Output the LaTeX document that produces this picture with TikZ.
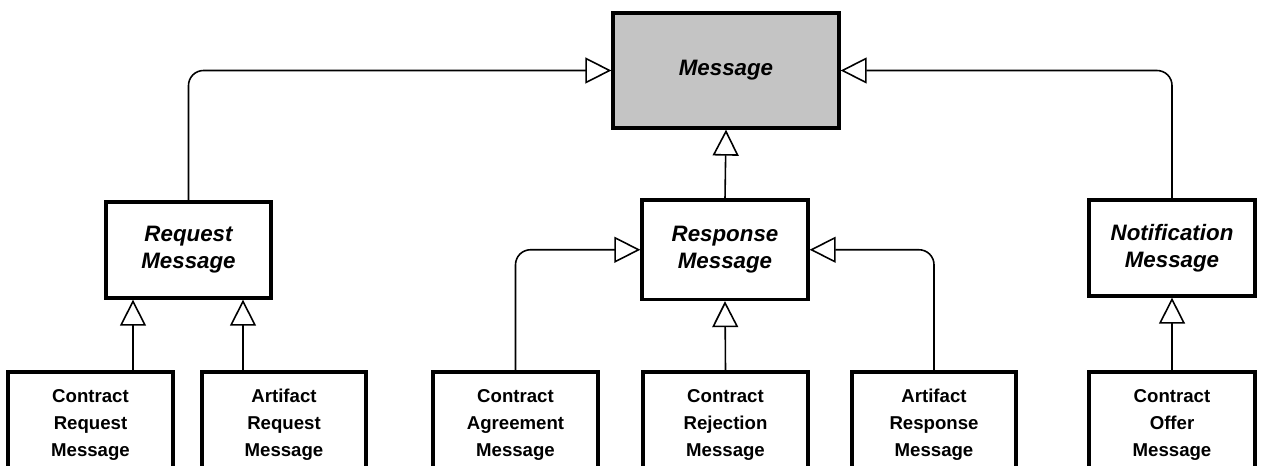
\documentclass[tikz,border=0pt]{standalone}
\usepackage{fontspec}
\setmainfont{Liberation Sans}
\usepackage{tikz}
\usetikzlibrary{arrows.meta}
\definecolor{msggray}{RGB}{196,196,196}
\tikzset{
  abstractcls/.style={draw,line width=1.9pt,align=center,inner sep=0pt,
    font=\fontsize{12.7}{15.3}\selectfont\bfseries\itshape},
  concretecls/.style={draw,line width=1.9pt,align=center,inner sep=0pt,
    minimum height=2.12cm,font=\fontsize{10.6}{15.3}\selectfont\bfseries},
  isa/.style={line width=0.9pt,rounded corners=0.3cm,
    -{Triangle[length=0.52cm,width=0.52cm,fill=white]}}
}

\begin{document}
\begin{tikzpicture}[x=0.02cm,y=-0.02cm]
    \useasboundingbox (0,0) rectangle (1263,466);
    \clip (0,0) rectangle (1263,466);

    \node[abstractcls,fill=msggray,minimum width=4.52cm,minimum height=2.3cm]
      (msg) at (726,70.5) {Message};
    \node[abstractcls,minimum width=3.3cm,minimum height=1.92cm]
      (req) at (188.5,250) {Request\\Message};
    \node[abstractcls,minimum width=3.32cm,minimum height=1.99cm]
      (resp) at (725,249.75) {Response\\Message};
    \node[abstractcls,minimum width=3.32cm,minimum height=1.92cm]
      (notif) at (1172,248) {Notification\\Message};

    \node[concretecls,minimum width=3.3cm] (creq) at (90.5,425) {Contract\\Request\\Message};
    \node[concretecls,minimum width=3.28cm] (areq) at (284,425) {Artifact\\Request\\Message};
    \node[concretecls,minimum width=3.3cm] (cagr) at (515.5,425) {Contract\\Agreement\\Message};
    \node[concretecls,minimum width=3.3cm] (crej) at (725.5,425) {Contract\\Rejection\\Message};
    \node[concretecls,minimum width=3.28cm] (aresp) at (934,425) {Artifact\\Response\\Message};
    \node[concretecls,minimum width=3.32cm] (coffer) at (1172,425) {Contract\\Offer\\Message};

    \draw[isa] (req.north) |- (msg.west);
    \draw[isa] (resp.north) -- (msg.south);
    \draw[isa] (notif.north) |- (msg.east);

    \draw[isa] (creq.north -| 133,0) -- (req.south -| 133,0);
    \draw[isa] (areq.north -| 243,0) -- (req.south -| 243,0);

    \draw[isa] (cagr.north) |- (resp.west);
    \draw[isa] (crej.north) -- (resp.south);
    \draw[isa] (aresp.north) |- (resp.east);

    \draw[isa] (coffer.north) -- (notif.south);
  \end{tikzpicture}
\end{document}
